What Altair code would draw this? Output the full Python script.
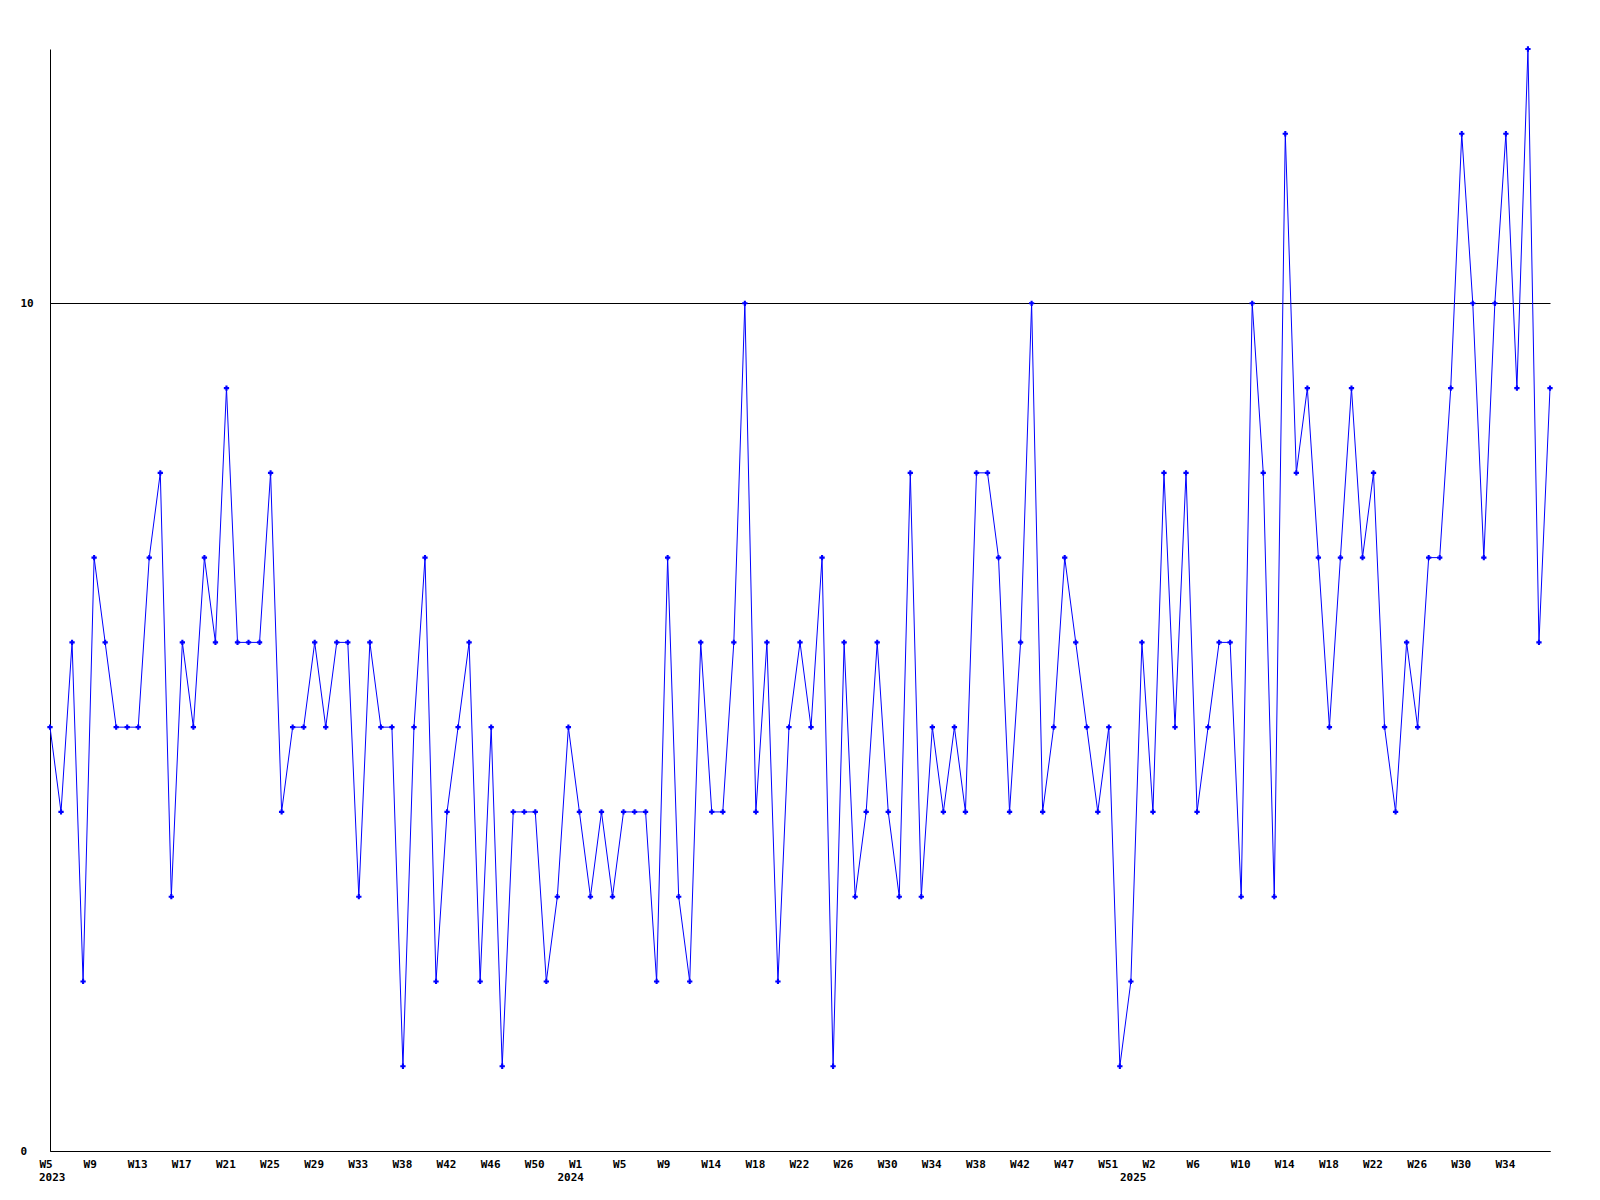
import json
import altair as alt
import pandas as pd

# weekly values, W5 2023 .. end of series (137 weeks)
values = (
    [5, 4, 6, 2, 7, 6, 5, 5, 5, 7]
    + [8, 3, 6, 5, 7, 6, 9, 6, 6, 6]
    + [8, 4, 5, 5, 6, 5, 6, 6, 3, 6]
    + [5, 5, 1, 5, 7, 2, 4, 5, 6, 2]
    + [5, 1, 4, 4, 4, 2, 3, 5, 4, 3]
    + [4, 3, 4, 4, 4, 2, 7, 3, 2, 6]
    + [4, 4, 6, 10, 4, 6, 2, 5, 6, 5]
    + [7, 1, 6, 3, 4, 6, 4, 3, 8, 3]
    + [5, 4, 5, 4, 8, 8, 7, 4, 6, 10]
    + [4, 5, 7, 6, 5, 4, 5, 1, 2, 6]
    + [4, 8, 5, 8, 4, 5, 6, 6, 3, 10]
    + [8, 3, 12, 8, 9, 7, 5, 7, 9, 7]
    + [8, 5, 4, 6, 5, 7, 7, 9, 12, 10]
    + [7, 10, 12, 9, 13, 6, 9]
)

# week tick labels, one every 4 points
tick_labels = [
    "W5", "W9", "W13", "W17", "W21", "W25", "W29", "W33", "W38", "W42", "W46", "W50",
    "W1", "W5", "W9", "W14", "W18", "W22", "W26", "W30", "W34", "W38", "W42", "W47", "W51",
    "W2", "W6", "W10", "W14", "W18", "W22", "W26", "W30", "W34",
]
# year labels and the point index they sit under
years = ["2023", "2024", "2025"]
year_index = [0, 47, 98]
y_ticks = [0, 10]

df = pd.DataFrame({"i": list(range(len(values))), "v": values})
df_years = pd.DataFrame({"i": year_index, "t": years})
n = len(values)
tick_pos = [4 * k for k in range(len(tick_labels))]

label_expr = json.dumps(tick_labels) + "[round(datum.value / 4)]"

FONT = "DejaVu Sans Mono"
W, H = 1500, 1102

x_scale = alt.Scale(domain=[0, n - 1], nice=False, zero=False)
x = alt.X(
    "i:Q",
    scale=x_scale,
    axis=alt.Axis(
        values=tick_pos,
        labelExpr=label_expr,
        title=None,
        ticks=False,
        grid=False,
        labelAlign="left",
        labelBaseline="top",
        labelOffset=-11,
        labelPadding=7,
        labelOverlap=False,
        labelFlush=False,
        domainColor="black",
        domainWidth=1,
    ),
)
y = alt.Y(
    "v:Q",
    scale=alt.Scale(domain=[0, 13], nice=False, zero=True),
    axis=alt.Axis(
        values=y_ticks,
        format="d",
        title=None,
        ticks=False,
        grid=True,
        gridColor="black",
        gridWidth=1,
        gridOpacity=1,
        labelAlign="left",
        labelBaseline="middle",
        labelPadding=30,
        domainColor="black",
        domainWidth=1,
    ),
)

line = alt.Chart(df).mark_line(color="#0000ff", strokeWidth=1).encode(x=x, y=y)
pts = alt.Chart(df).mark_point(
    shape="cross", filled=True, size=28, color="#0000ff", opacity=1
).encode(x=x, y=y)
year_text = alt.Chart(df_years).mark_text(
    align="left",
    baseline="middle",
    dx=-11,
    font=FONT,
    fontSize=11,
    fontWeight="bold",
    color="black",
).encode(
    x=alt.X("i:Q", scale=x_scale),
    y=alt.value(H + 27),
    text="t:N",
)

chart = (
    alt.layer(line, pts, year_text)
    .properties(
        width=W,
        height=H,
        autosize=alt.AutoSizeParams(type="none"),
        padding={"left": 42, "top": 41, "right": 42, "bottom": 41},
        background="white",
    )
    .configure_view(strokeWidth=0)
    .configure_axis(
        labelFont=FONT,
        labelFontSize=11,
        labelFontWeight="bold",
        labelColor="black",
    )
)

chart.save("out.html", embed_options={"renderer": "svg", "actions": False})
